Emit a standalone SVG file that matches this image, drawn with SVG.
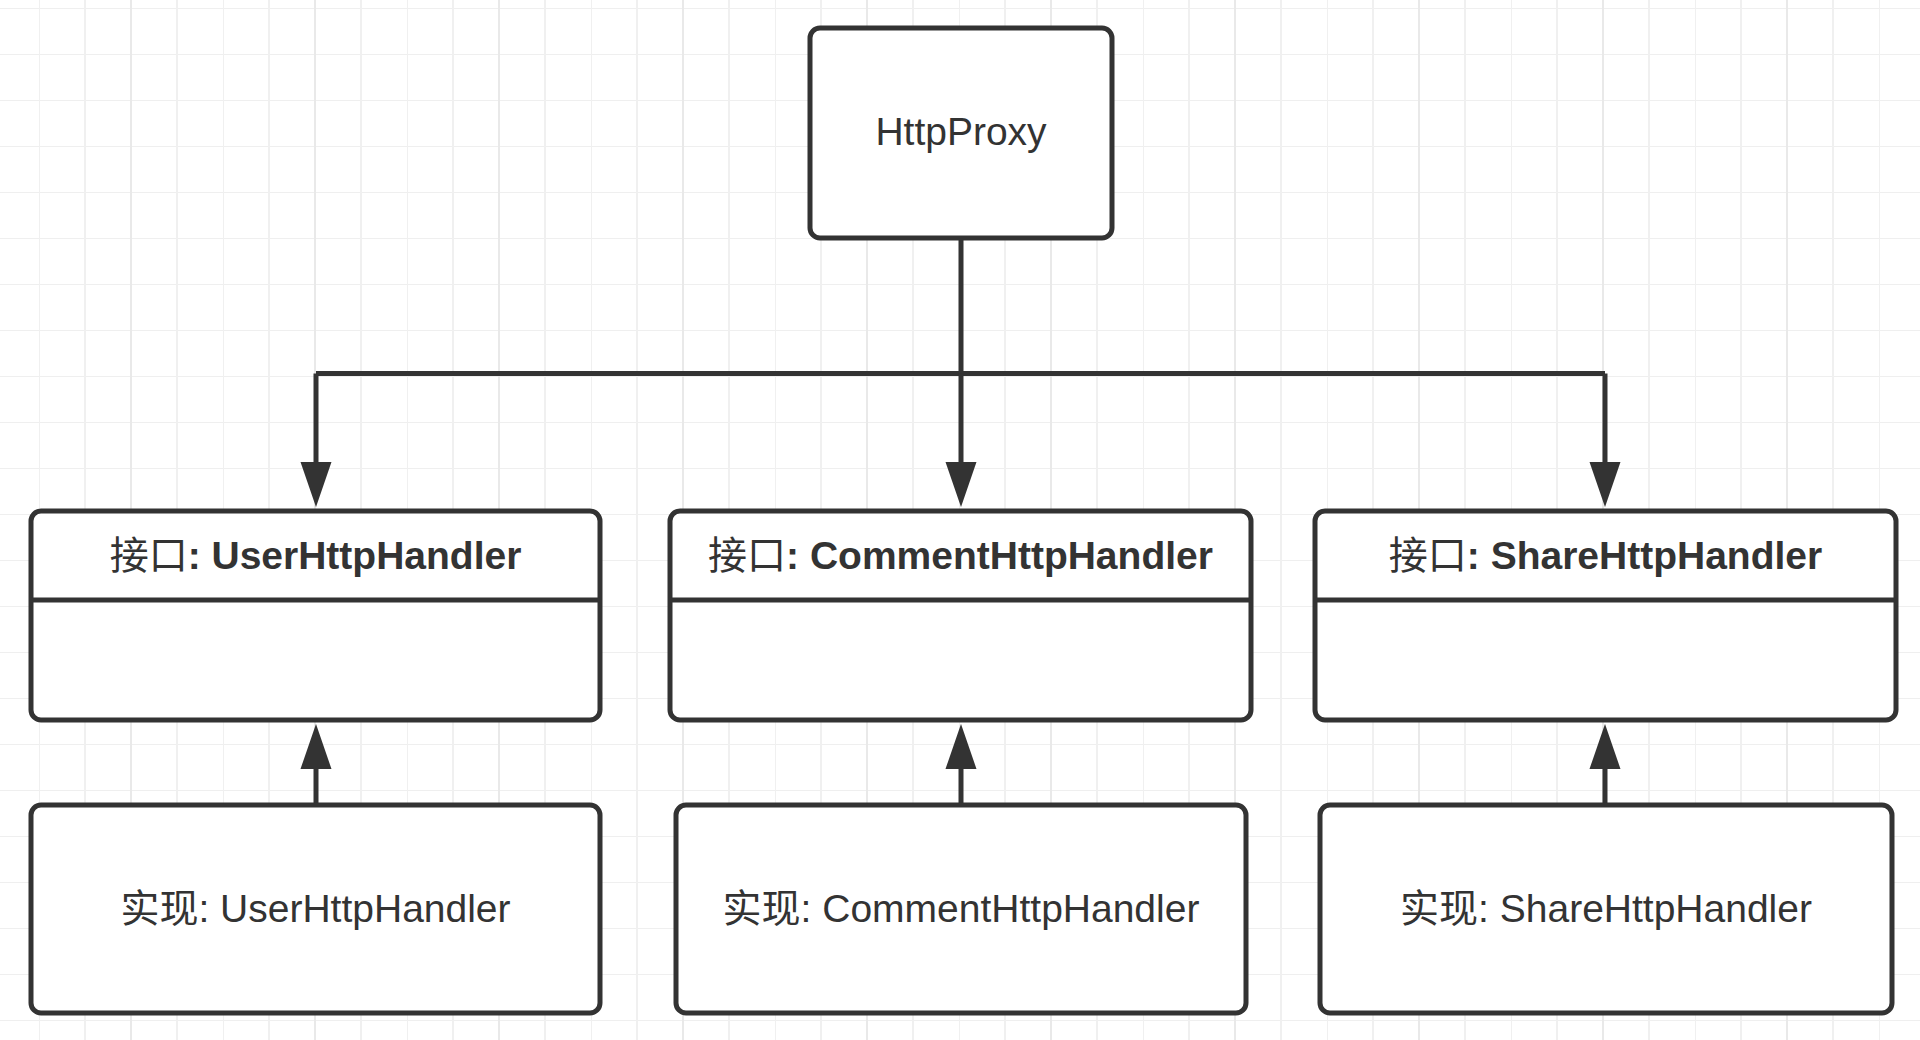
<svg xmlns="http://www.w3.org/2000/svg" width="1920" height="1040" viewBox="0 0 1920 1040">
  <defs>
    <pattern id="grid" x="39" y="8" width="184" height="46" patternUnits="userSpaceOnUse">
      <line x1="0" y1="0" x2="184" y2="0" stroke="#efefef" stroke-width="2"/>
      <line x1="0" y1="0" x2="0" y2="46" stroke="#f0f0f0" stroke-width="2"/>
      <line x1="46" y1="0" x2="46" y2="46" stroke="#f0f0f0" stroke-width="2"/>
      <line x1="92" y1="0" x2="92" y2="46" stroke="#e9e9e9" stroke-width="2"/>
      <line x1="138" y1="0" x2="138" y2="46" stroke="#f0f0f0" stroke-width="2"/>
    </pattern>
    <marker id="arrow" markerUnits="userSpaceOnUse" markerWidth="46" markerHeight="32" refX="0" refY="15.5" orient="auto" viewBox="0 0 46 31">
      <path d="M0,0 L45,15.5 L0,31 Z" fill="#333333"/>
    </marker>
  </defs>
  <style>
    .box { fill: #ffffff; stroke: #333333; stroke-width: 5; }
    .div { stroke: #333333; stroke-width: 5; }
    .conn { fill: none; stroke: #333333; stroke-width: 5; }
    .lbl { font-family: "Liberation Sans", Arial, "Noto Sans CJK SC", sans-serif; font-size: 39px; fill: #333333; text-anchor: middle; }
    .bold { font-weight: bold; }
    .cjk { font-weight: normal; }
  </style>
  <rect x="0" y="0" width="1920" height="1040" fill="#ffffff"/>
  <rect x="0" y="0" width="1920" height="1040" fill="url(#grid)"/>

  <g id="connectors">
    <path class="conn" d="M961 238 V373.5"/>
    <path class="conn" d="M316 373.5 H1605"/>
    <path class="conn" d="M316 373.5 V462" marker-end="url(#arrow)"/>
    <path class="conn" d="M961 373.5 V462" marker-end="url(#arrow)"/>
    <path class="conn" d="M1605 373.5 V462" marker-end="url(#arrow)"/>
    <path class="conn" d="M316 805 V769" marker-end="url(#arrow)"/>
    <path class="conn" d="M961 805 V769" marker-end="url(#arrow)"/>
    <path class="conn" d="M1605 805 V769" marker-end="url(#arrow)"/>
  </g>

  <g id="HttpProxy">
    <rect class="box" x="810" y="28" width="302" height="210" rx="10"/>
    <text class="lbl" x="961" y="145">HttpProxy</text>
  </g>

  <g id="IUserHttpHandler">
    <rect class="box" x="31" y="511" width="569" height="209" rx="10"/>
    <line class="div" x1="31" y1="600" x2="600" y2="600"/>
    <text class="lbl bold" x="315.5" y="569"><tspan class="cjk">接口</tspan>: UserHttpHandler</text>
  </g>

  <g id="ICommentHttpHandler">
    <rect class="box" x="670" y="511" width="581" height="209" rx="10"/>
    <line class="div" x1="670" y1="600" x2="1251" y2="600"/>
    <text class="lbl bold" x="960.5" y="569"><tspan class="cjk">接口</tspan>: CommentHttpHandler</text>
  </g>

  <g id="IShareHttpHandler">
    <rect class="box" x="1315" y="511" width="581" height="209" rx="10"/>
    <line class="div" x1="1315" y1="600" x2="1896" y2="600"/>
    <text class="lbl bold" x="1605.5" y="569"><tspan class="cjk">接口</tspan>: ShareHttpHandler</text>
  </g>

  <g id="UserHttpHandler">
    <rect class="box" x="31" y="805" width="569" height="208" rx="10"/>
    <text class="lbl" x="315.5" y="922">实现: UserHttpHandler</text>
  </g>

  <g id="CommentHttpHandler">
    <rect class="box" x="676" y="805" width="570" height="208" rx="10"/>
    <text class="lbl" x="961" y="922">实现: CommentHttpHandler</text>
  </g>

  <g id="ShareHttpHandler">
    <rect class="box" x="1320" y="805" width="572" height="208" rx="10"/>
    <text class="lbl" x="1606" y="922">实现: ShareHttpHandler</text>
  </g>
</svg>
